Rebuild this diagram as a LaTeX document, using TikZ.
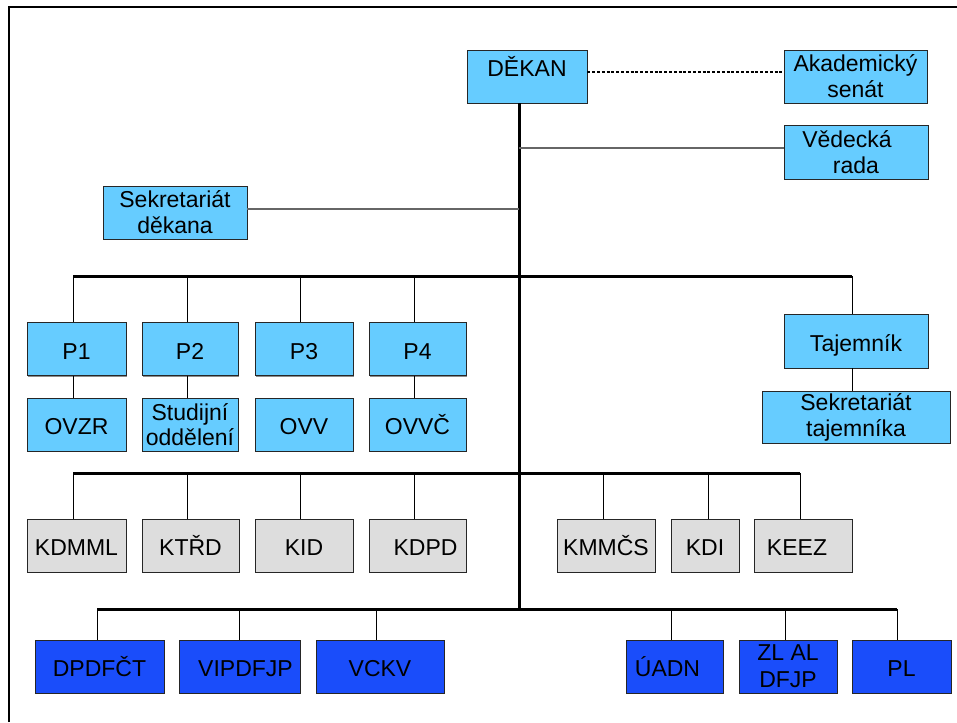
\documentclass[tikz,border=0pt]{standalone}
\usepackage{fontspec}
\setmainfont{Liberation Sans}
\definecolor{lightblu}{RGB}{102,204,255}
\definecolor{lightgry}{RGB}{221,221,221}
\definecolor{deepblu}{RGB}{26,77,250}
\begin{document}
\begin{tikzpicture}[x=1pt,y=-1pt,
  basebox/.style={draw=black!85, line width=0.9pt, inner sep=0pt, align=center,
    font=\fontsize{23}{26}\selectfont, minimum height=53pt,
    preaction={fill=black!45, transform canvas={shift={(1.4pt,-1.4pt)}}}},
  oneline/.style={text height=20pt, text depth=0pt},
  lbox/.style={basebox, fill=lightblu},
  gbox/.style={basebox, fill=lightgry, oneline},
  dbox/.style={basebox, fill=deepblu},
  trunkline/.style={line width=3pt, black},
  busline/.style={line width=3pt, black},
  dropline/.style={line width=1pt, black},
  sideline/.style={line width=1.3pt, black!60},
  dashline/.style={line width=1.6pt, black, dash pattern=on 3pt off 1.8pt}]
\useasboundingbox (0,0) rectangle (957,722);
\fill[white] (0,0) rectangle (957,722);
\draw[line width=2pt] (8.5,722) -- (8.5,7) -- (957,7);

% top
\node[lbox, minimum width=120, text height=20pt, text depth=19pt] (dekan) at (527,76.5) {DĚKAN};
\node[lbox, minimum width=143] (senat) at (855.5,76.5) {Akademický\\senát};
\node[lbox, minimum width=144, minimum height=54] (vr) at (856,152) {Vědecká\hspace*{18pt}\\rada};
\node[lbox, minimum width=144] (sd) at (175,212.5) {Sekretariát\\děkana};

% row P
\node[lbox, oneline, minimum width=99] (p1) at (76.5,349) {P1};
\node[lbox, oneline, minimum width=96] (p2) at (190,349) {P2};
\node[lbox, oneline, minimum width=98] (p3) at (304,349) {P3};
\node[lbox, oneline, minimum width=97] (p4) at (417.5,349) {P4};
\node[lbox, oneline, minimum width=99] (s1) at (76.5,424.5) {OVZR};
\node[lbox, minimum width=96, font=\fontsize{23}{25}\selectfont] (s2) at (190,424.5) {Studijní\\oddělení};
\node[lbox, oneline, minimum width=98] (s3) at (304,424.5) {OVV};
\node[lbox, oneline, minimum width=97] (s4) at (417.5,424.5) {OVVČ};
\node[lbox, oneline, minimum width=144, minimum height=54] (taj) at (856,341) {Tajemník};
\node[lbox, minimum width=188, minimum height=52] (st) at (856,417) {Sekretariát\\tajemníka};

% row K
\node[gbox, minimum width=99] (k1) at (76.5,545.5) {KDMML};
\node[gbox, minimum width=97] (k2) at (190.5,545.5) {KTŘD};
\node[gbox, minimum width=98] (k3) at (304,545.5) {KID};
\node[gbox, minimum width=97] (k4) at (417.5,545.5) {\hspace*{16pt}KDPD};
\node[gbox, minimum width=98] (k5) at (606,545.5) {KMMČS};
\node[gbox, minimum width=68] (k6) at (705,545.5) {KDI};
\node[gbox, minimum width=98] (k7) at (803,545.5) {KEEZ\hspace*{12pt}};

% row D
\node[dbox, oneline, minimum width=129] (d1) at (99.5,666.5) {DPDFČT};
\node[dbox, oneline, minimum width=121] (d2) at (239.5,666.5) {\hspace*{12pt}VIPDFJP};
\node[dbox, oneline, minimum width=128] (d3) at (380,666.5) {VCKV};
\node[dbox, oneline, minimum width=97] (d4) at (674.5,666.5) {ÚADN\hspace*{14pt}};
\node[dbox, minimum width=98, font=\fontsize{23}{27}\selectfont] (d5) at (788,666.5) {ZL AL\\DFJP};
\node[dbox, oneline, minimum width=99] (d6) at (901.5,666.5) {PL};

% coordinates
\coordinate (tt) at (519,103);
\coordinate (tb) at (519,609);
\coordinate (b1l) at (73,276);
\coordinate (b1r) at (852,276);
\coordinate (b2l) at (73,473);
\coordinate (b2r) at (800,473);
\coordinate (b3l) at (97,609);
\coordinate (b3r) at (897,609);

% trunk and side links
\draw[trunkline] (dekan.south -| tt) -- (tb);
\draw[dashline] ([yshift=4.5pt]dekan.east) -- ([yshift=4.5pt]senat.west);
\draw[sideline] (vr.west |- 0,148) -- (tt |- 0,148);
\draw[sideline] (sd.east |- 0,209) -- (tt |- 0,209);

% bus 1
\draw[busline] (b1l) -- (b1r);
\draw[dropline] (b1l) -- (b1l |- p1.north);
\draw[dropline] ([xshift=-3pt]p2.north) -- ([xshift=-3pt]p2.north |- b1l);
\draw[dropline] ([xshift=-4pt]p3.north) -- ([xshift=-4pt]p3.north |- b1l);
\draw[dropline] ([xshift=-3.5pt]p4.north) -- ([xshift=-3.5pt]p4.north |- b1l);
\draw[dropline] (b1r) -- (b1r |- taj.north);
\draw[dropline] (b1l |- p1.south) -- (b1l |- s1.north);
\draw[dropline] ([xshift=-3pt]p2.south) -- ([xshift=-3pt]s2.north);
\draw[dropline] ([xshift=-3.5pt]p4.south) -- ([xshift=-3.5pt]s4.north);
\draw[dropline] (b1r |- taj.south) -- (b1r |- st.north);

% bus 2
\draw[busline] (b2l) -- (b2r);
\draw[dropline] (b2l) -- (b2l |- k1.north);
\draw[dropline] ([xshift=-3.5pt]k2.north) -- ([xshift=-3.5pt]k2.north |- b2l);
\draw[dropline] ([xshift=-4pt]k3.north) -- ([xshift=-4pt]k3.north |- b2l);
\draw[dropline] ([xshift=-3.5pt]k4.north) -- ([xshift=-3.5pt]k4.north |- b2l);
\draw[dropline] ([xshift=-3pt]k5.north) -- ([xshift=-3pt]k5.north |- b2l);
\draw[dropline] ([xshift=3pt]k6.north) -- ([xshift=3pt]k6.north |- b2l);
\draw[dropline] (b2r) -- (b2r |- k7.north);

% bus 3
\draw[busline] (b3l) -- (b3r);
\draw[dropline] (b3l) -- (b3l |- d1.north);
\draw[dropline] (d2.north) -- (d2.north |- b3l);
\draw[dropline] ([xshift=-4pt]d3.north) -- ([xshift=-4pt]d3.north |- b3l);
\draw[dropline] ([xshift=-3.5pt]d4.north) -- ([xshift=-3.5pt]d4.north |- b3l);
\draw[dropline] ([xshift=-3pt]d5.north) -- ([xshift=-3pt]d5.north |- b3l);
\draw[dropline] (b3r) -- (b3r |- d6.north);
\end{tikzpicture}
\end{document}
